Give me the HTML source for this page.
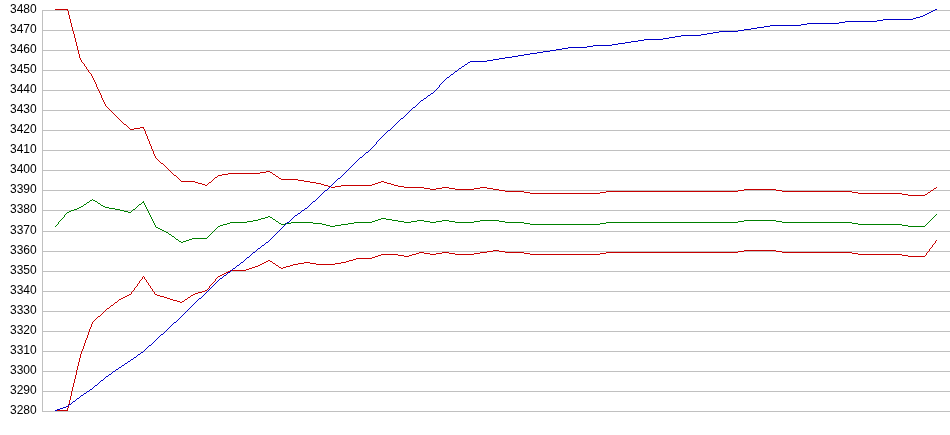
<!DOCTYPE html>
<html><head><meta charset="utf-8"><style>
html,body{margin:0;padding:0;background:#fff;}
body{width:950px;height:435px;overflow:hidden;position:relative;}
.l{position:absolute;right:913px;font:12px/14px "Liberation Sans",sans-serif;color:#000;white-space:nowrap;will-change:transform;}
svg{position:absolute;left:0;top:0;}
</style></head><body>
<div class="l" style="top:2px">3480</div>
<div class="l" style="top:22px">3470</div>
<div class="l" style="top:42px">3460</div>
<div class="l" style="top:62px">3450</div>
<div class="l" style="top:82px">3440</div>
<div class="l" style="top:102px">3430</div>
<div class="l" style="top:122px">3420</div>
<div class="l" style="top:142px">3410</div>
<div class="l" style="top:162px">3400</div>
<div class="l" style="top:182px">3390</div>
<div class="l" style="top:202px">3380</div>
<div class="l" style="top:223px">3370</div>
<div class="l" style="top:243px">3360</div>
<div class="l" style="top:263px">3350</div>
<div class="l" style="top:283px">3340</div>
<div class="l" style="top:303px">3330</div>
<div class="l" style="top:323px">3320</div>
<div class="l" style="top:343px">3310</div>
<div class="l" style="top:363px">3300</div>
<div class="l" style="top:383px">3290</div>
<div class="l" style="top:403px">3280</div>
<svg width="950" height="435" viewBox="0 0 950 435" shape-rendering="crispEdges">
<g stroke="#c0c0c0" stroke-width="1">
<line x1="42" y1="10.5" x2="950" y2="10.5"/>
<line x1="42" y1="30.5" x2="950" y2="30.5"/>
<line x1="42" y1="50.5" x2="950" y2="50.5"/>
<line x1="42" y1="70.5" x2="950" y2="70.5"/>
<line x1="42" y1="90.5" x2="950" y2="90.5"/>
<line x1="42" y1="110.5" x2="950" y2="110.5"/>
<line x1="42" y1="130.5" x2="950" y2="130.5"/>
<line x1="42" y1="150.5" x2="950" y2="150.5"/>
<line x1="42" y1="170.5" x2="950" y2="170.5"/>
<line x1="42" y1="190.5" x2="950" y2="190.5"/>
<line x1="42" y1="210.5" x2="950" y2="210.5"/>
<line x1="42" y1="231.5" x2="950" y2="231.5"/>
<line x1="42" y1="251.5" x2="950" y2="251.5"/>
<line x1="42" y1="271.5" x2="950" y2="271.5"/>
<line x1="42" y1="291.5" x2="950" y2="291.5"/>
<line x1="42" y1="311.5" x2="950" y2="311.5"/>
<line x1="42" y1="331.5" x2="950" y2="331.5"/>
<line x1="42" y1="351.5" x2="950" y2="351.5"/>
<line x1="42" y1="371.5" x2="950" y2="371.5"/>
<line x1="42" y1="391.5" x2="950" y2="391.5"/>
<line x1="42" y1="411.5" x2="950" y2="411.5"/>
<line x1="42.5" y1="10" x2="42.5" y2="412"/>
</g>
<path fill="#c80000" d="M55 9h13v1h-13zM67 10h1v1h-1zM68 11h1v1h-1zM68 12h1v1h-1zM68 13h1v1h-1zM68 14h1v1h-1zM69 15h1v1h-1zM69 16h1v1h-1zM69 17h1v1h-1zM69 18h1v1h-1zM70 19h1v1h-1zM70 20h1v1h-1zM70 21h1v1h-1zM70 22h1v1h-1zM71 23h1v1h-1zM71 24h1v1h-1zM71 25h1v1h-1zM71 26h1v1h-1zM72 27h1v1h-1zM72 28h1v1h-1zM72 29h1v1h-1zM72 30h1v1h-1zM73 31h1v1h-1zM73 32h1v1h-1zM73 33h1v1h-1zM74 34h1v1h-1zM74 35h1v1h-1zM74 36h1v1h-1zM74 37h1v1h-1zM75 38h1v1h-1zM75 39h1v1h-1zM75 40h1v1h-1zM75 41h1v1h-1zM76 42h1v1h-1zM76 43h1v1h-1zM76 44h1v1h-1zM76 45h1v1h-1zM77 46h1v1h-1zM77 47h1v1h-1zM77 48h1v1h-1zM77 49h1v1h-1zM78 50h1v1h-1zM78 51h1v1h-1zM78 52h1v1h-1zM78 53h1v1h-1zM79 54h1v1h-1zM79 55h1v1h-1zM79 56h1v1h-1zM79 57h1v1h-1zM80 58h1v1h-1zM80 59h1v1h-1zM81 60h1v1h-1zM81 61h1v1h-1zM82 62h1v1h-1zM83 63h1v1h-1zM84 64h1v1h-1zM84 65h1v1h-1zM85 66h1v1h-1zM86 67h1v1h-1zM86 68h1v1h-1zM87 69h1v1h-1zM88 70h1v1h-1zM88 71h1v1h-1zM89 72h1v1h-1zM90 73h1v1h-1zM91 74h1v1h-1zM91 75h1v1h-1zM92 76h1v1h-1zM92 77h1v1h-1zM93 78h1v1h-1zM93 79h1v1h-1zM94 80h1v1h-1zM94 81h1v1h-1zM95 82h1v1h-1zM95 83h1v1h-1zM96 84h1v1h-1zM96 85h1v1h-1zM96 86h1v1h-1zM97 87h1v1h-1zM97 88h1v1h-1zM98 89h1v1h-1zM98 90h1v1h-1zM99 91h1v1h-1zM99 92h1v1h-1zM100 93h1v1h-1zM100 94h1v1h-1zM101 95h1v1h-1zM101 96h1v1h-1zM101 97h1v1h-1zM102 98h1v1h-1zM102 99h1v1h-1zM103 100h1v1h-1zM103 101h1v1h-1zM104 102h1v1h-1zM104 103h1v1h-1zM105 104h1v1h-1zM105 105h1v1h-1zM106 106h1v1h-1zM107 107h1v1h-1zM108 108h1v1h-1zM109 109h1v1h-1zM110 110h1v1h-1zM111 111h1v1h-1zM112 112h1v1h-1zM113 113h1v1h-1zM114 114h1v1h-1zM115 115h1v1h-1zM116 116h1v1h-1zM117 117h1v1h-1zM118 118h1v1h-1zM119 119h1v1h-1zM120 120h1v1h-1zM121 121h1v1h-1zM122 122h1v1h-1zM123 123h1v1h-1zM124 124h2v1h-2zM126 125h1v1h-1zM127 126h1v1h-1zM128 127h1v1h-1zM140 127h4v1h-4zM129 128h1v1h-1zM134 128h6v1h-6zM143 128h1v1h-1zM130 129h4v1h-4zM144 129h1v1h-1zM144 130h1v1h-1zM145 131h1v1h-1zM145 132h1v1h-1zM145 133h1v1h-1zM146 134h1v1h-1zM146 135h1v1h-1zM147 136h1v1h-1zM147 137h1v1h-1zM147 138h1v1h-1zM148 139h1v1h-1zM148 140h1v1h-1zM149 141h1v1h-1zM149 142h1v1h-1zM149 143h1v1h-1zM150 144h1v1h-1zM150 145h1v1h-1zM151 146h1v1h-1zM151 147h1v1h-1zM151 148h1v1h-1zM152 149h1v1h-1zM152 150h1v1h-1zM153 151h1v1h-1zM153 152h1v1h-1zM153 153h1v1h-1zM154 154h1v1h-1zM154 155h1v1h-1zM155 156h1v1h-1zM155 157h1v1h-1zM156 158h1v1h-1zM157 159h1v1h-1zM158 160h1v1h-1zM159 161h1v1h-1zM160 162h1v1h-1zM161 163h2v1h-2zM163 164h1v1h-1zM164 165h1v1h-1zM165 166h1v1h-1zM166 167h1v1h-1zM167 168h1v1h-1zM168 169h1v1h-1zM169 170h1v1h-1zM170 171h1v1h-1zM266 171h4v1h-4zM171 172h1v1h-1zM260 172h6v1h-6zM270 172h2v1h-2zM172 173h1v1h-1zM228 173h32v1h-32zM272 173h1v1h-1zM173 174h1v1h-1zM222 174h6v1h-6zM273 174h2v1h-2zM174 175h2v1h-2zM218 175h4v1h-4zM275 175h1v1h-1zM176 176h1v1h-1zM217 176h1v1h-1zM276 176h2v1h-2zM177 177h1v1h-1zM215 177h2v1h-2zM278 177h1v1h-1zM178 178h1v1h-1zM214 178h1v1h-1zM279 178h2v1h-2zM179 179h1v1h-1zM213 179h1v1h-1zM281 179h17v1h-17zM180 180h1v1h-1zM212 180h1v1h-1zM298 180h6v1h-6zM181 181h14v1h-14zM211 181h1v1h-1zM304 181h6v1h-6zM381 181h3v1h-3zM195 182h3v1h-3zM209 182h2v1h-2zM310 182h6v1h-6zM378 182h3v1h-3zM384 182h3v1h-3zM198 183h4v1h-4zM208 183h1v1h-1zM316 183h5v1h-5zM375 183h3v1h-3zM387 183h4v1h-4zM202 184h3v1h-3zM207 184h1v1h-1zM321 184h3v1h-3zM372 184h3v1h-3zM391 184h3v1h-3zM205 185h2v1h-2zM324 185h4v1h-4zM341 185h31v1h-31zM394 185h4v1h-4zM328 186h3v1h-3zM335 186h6v1h-6zM398 186h6v1h-6zM331 187h4v1h-4zM404 187h20v1h-20zM442 187h7v1h-7zM480 187h7v1h-7zM936 187h1v1h-1zM424 188h6v1h-6zM436 188h6v1h-6zM449 188h6v1h-6zM474 188h6v1h-6zM487 188h6v1h-6zM934 188h2v1h-2zM430 189h6v1h-6zM455 189h19v1h-19zM493 189h6v1h-6zM744 189h32v1h-32zM933 189h1v1h-1zM499 190h6v1h-6zM738 190h6v1h-6zM776 190h6v1h-6zM931 190h2v1h-2zM505 191h19v1h-19zM606 191h132v1h-132zM782 191h70v1h-70zM930 191h1v1h-1zM524 192h6v1h-6zM600 192h6v1h-6zM852 192h6v1h-6zM928 192h2v1h-2zM530 193h70v1h-70zM858 193h44v1h-44zM927 193h1v1h-1zM902 194h6v1h-6zM925 194h2v1h-2zM908 195h17v1h-17z"/>
<path fill="#008000" d="M92 199h1v1h-1zM90 200h2v1h-2zM93 200h2v1h-2zM89 201h1v1h-1zM95 201h2v1h-2zM143 201h1v1h-1zM87 202h2v1h-2zM97 202h1v1h-1zM142 202h2v1h-2zM86 203h1v1h-1zM98 203h2v1h-2zM141 203h1v1h-1zM144 203h1v1h-1zM84 204h2v1h-2zM100 204h1v1h-1zM139 204h2v1h-2zM144 204h1v1h-1zM83 205h1v1h-1zM101 205h2v1h-2zM138 205h1v1h-1zM145 205h1v1h-1zM81 206h2v1h-2zM103 206h2v1h-2zM137 206h1v1h-1zM145 206h1v1h-1zM79 207h2v1h-2zM105 207h4v1h-4zM136 207h1v1h-1zM146 207h1v1h-1zM77 208h2v1h-2zM109 208h6v1h-6zM135 208h1v1h-1zM146 208h1v1h-1zM74 209h3v1h-3zM115 209h5v1h-5zM133 209h2v1h-2zM147 209h1v1h-1zM71 210h3v1h-3zM120 210h4v1h-4zM132 210h1v1h-1zM147 210h1v1h-1zM69 211h2v1h-2zM124 211h4v1h-4zM131 211h1v1h-1zM148 211h1v1h-1zM67 212h2v1h-2zM128 212h3v1h-3zM148 212h1v1h-1zM66 213h1v1h-1zM149 213h1v1h-1zM65 214h1v1h-1zM149 214h1v1h-1zM936 214h1v1h-1zM64 215h1v1h-1zM150 215h1v1h-1zM935 215h1v1h-1zM64 216h1v1h-1zM150 216h1v1h-1zM268 216h2v1h-2zM934 216h1v1h-1zM63 217h1v1h-1zM151 217h1v1h-1zM265 217h3v1h-3zM270 217h2v1h-2zM933 217h1v1h-1zM62 218h1v1h-1zM151 218h1v1h-1zM261 218h4v1h-4zM272 218h1v1h-1zM381 218h5v1h-5zM932 218h1v1h-1zM61 219h1v1h-1zM152 219h1v1h-1zM258 219h3v1h-3zM273 219h2v1h-2zM378 219h3v1h-3zM386 219h6v1h-6zM931 219h1v1h-1zM60 220h1v1h-1zM152 220h1v1h-1zM253 220h5v1h-5zM275 220h1v1h-1zM375 220h3v1h-3zM392 220h6v1h-6zM417 220h7v1h-7zM442 220h7v1h-7zM480 220h19v1h-19zM744 220h32v1h-32zM930 220h1v1h-1zM59 221h1v1h-1zM153 221h1v1h-1zM247 221h6v1h-6zM276 221h2v1h-2zM372 221h3v1h-3zM398 221h6v1h-6zM411 221h6v1h-6zM424 221h6v1h-6zM436 221h6v1h-6zM449 221h6v1h-6zM474 221h6v1h-6zM499 221h6v1h-6zM738 221h6v1h-6zM776 221h6v1h-6zM929 221h1v1h-1zM58 222h1v1h-1zM153 222h1v1h-1zM230 222h17v1h-17zM278 222h1v1h-1zM291 222h22v1h-22zM354 222h18v1h-18zM404 222h7v1h-7zM430 222h6v1h-6zM455 222h19v1h-19zM505 222h19v1h-19zM606 222h132v1h-132zM782 222h70v1h-70zM928 222h1v1h-1zM58 223h1v1h-1zM154 223h1v1h-1zM227 223h3v1h-3zM279 223h2v1h-2zM285 223h6v1h-6zM313 223h9v1h-9zM348 223h6v1h-6zM524 223h6v1h-6zM600 223h6v1h-6zM852 223h6v1h-6zM927 223h1v1h-1zM57 224h1v1h-1zM154 224h1v1h-1zM223 224h4v1h-4zM281 224h4v1h-4zM322 224h4v1h-4zM341 224h7v1h-7zM530 224h70v1h-70zM858 224h44v1h-44zM926 224h1v1h-1zM56 225h1v1h-1zM155 225h1v1h-1zM220 225h3v1h-3zM326 225h4v1h-4zM335 225h6v1h-6zM902 225h6v1h-6zM925 225h1v1h-1zM55 226h1v1h-1zM155 226h1v1h-1zM218 226h2v1h-2zM330 226h5v1h-5zM908 226h17v1h-17zM156 227h2v1h-2zM217 227h1v1h-1zM158 228h2v1h-2zM216 228h1v1h-1zM160 229h2v1h-2zM215 229h1v1h-1zM162 230h2v1h-2zM214 230h1v1h-1zM164 231h2v1h-2zM213 231h1v1h-1zM166 232h2v1h-2zM212 232h1v1h-1zM168 233h1v1h-1zM211 233h1v1h-1zM169 234h2v1h-2zM210 234h1v1h-1zM171 235h1v1h-1zM209 235h1v1h-1zM172 236h2v1h-2zM208 236h1v1h-1zM174 237h1v1h-1zM207 237h1v1h-1zM175 238h1v1h-1zM192 238h15v1h-15zM176 239h2v1h-2zM189 239h3v1h-3zM178 240h1v1h-1zM186 240h3v1h-3zM179 241h2v1h-2zM183 241h3v1h-3zM181 242h2v1h-2z"/>
<path fill="#c80000" d="M936 240h1v1h-1zM935 241h1v1h-1zM935 242h1v1h-1zM934 243h1v1h-1zM933 244h1v1h-1zM932 245h1v1h-1zM932 246h1v1h-1zM931 247h1v1h-1zM930 248h1v1h-1zM929 249h1v1h-1zM493 250h6v1h-6zM744 250h32v1h-32zM929 250h1v1h-1zM487 251h6v1h-6zM499 251h6v1h-6zM738 251h6v1h-6zM776 251h6v1h-6zM928 251h1v1h-1zM419 252h5v1h-5zM442 252h7v1h-7zM480 252h7v1h-7zM505 252h19v1h-19zM606 252h132v1h-132zM782 252h70v1h-70zM927 252h1v1h-1zM416 253h3v1h-3zM424 253h6v1h-6zM436 253h6v1h-6zM449 253h6v1h-6zM474 253h6v1h-6zM524 253h6v1h-6zM600 253h6v1h-6zM852 253h6v1h-6zM926 253h1v1h-1zM381 254h17v1h-17zM412 254h4v1h-4zM430 254h6v1h-6zM455 254h19v1h-19zM530 254h70v1h-70zM858 254h44v1h-44zM926 254h1v1h-1zM378 255h3v1h-3zM398 255h6v1h-6zM409 255h3v1h-3zM902 255h6v1h-6zM925 255h1v1h-1zM375 256h3v1h-3zM404 256h5v1h-5zM908 256h17v1h-17zM372 257h3v1h-3zM356 258h16v1h-16zM353 259h3v1h-3zM268 260h2v1h-2zM349 260h4v1h-4zM266 261h2v1h-2zM270 261h2v1h-2zM346 261h3v1h-3zM264 262h2v1h-2zM272 262h1v1h-1zM304 262h6v1h-6zM341 262h5v1h-5zM262 263h2v1h-2zM273 263h2v1h-2zM298 263h6v1h-6zM310 263h6v1h-6zM335 263h6v1h-6zM260 264h2v1h-2zM275 264h1v1h-1zM293 264h5v1h-5zM316 264h19v1h-19zM258 265h2v1h-2zM276 265h2v1h-2zM290 265h3v1h-3zM255 266h3v1h-3zM278 266h1v1h-1zM286 266h4v1h-4zM252 267h3v1h-3zM279 267h2v1h-2zM283 267h3v1h-3zM249 268h3v1h-3zM281 268h2v1h-2zM246 269h3v1h-3zM230 270h16v1h-16zM228 271h2v1h-2zM226 272h2v1h-2zM224 273h2v1h-2zM222 274h2v1h-2zM220 275h2v1h-2zM143 276h1v1h-1zM218 276h2v1h-2zM142 277h1v1h-1zM144 277h1v1h-1zM217 277h1v1h-1zM142 278h1v1h-1zM144 278h1v1h-1zM216 278h1v1h-1zM141 279h1v1h-1zM145 279h1v1h-1zM215 279h1v1h-1zM140 280h1v1h-1zM146 280h1v1h-1zM215 280h1v1h-1zM139 281h1v1h-1zM146 281h1v1h-1zM214 281h1v1h-1zM139 282h1v1h-1zM147 282h1v1h-1zM213 282h1v1h-1zM138 283h1v1h-1zM148 283h1v1h-1zM212 283h1v1h-1zM137 284h1v1h-1zM148 284h1v1h-1zM211 284h1v1h-1zM137 285h1v1h-1zM149 285h1v1h-1zM210 285h1v1h-1zM136 286h1v1h-1zM150 286h1v1h-1zM209 286h1v1h-1zM135 287h1v1h-1zM150 287h1v1h-1zM209 287h1v1h-1zM134 288h1v1h-1zM151 288h1v1h-1zM208 288h1v1h-1zM134 289h1v1h-1zM152 289h1v1h-1zM207 289h1v1h-1zM133 290h1v1h-1zM152 290h1v1h-1zM205 290h2v1h-2zM132 291h1v1h-1zM153 291h1v1h-1zM202 291h3v1h-3zM131 292h1v1h-1zM154 292h1v1h-1zM198 292h4v1h-4zM131 293h1v1h-1zM154 293h1v1h-1zM195 293h3v1h-3zM129 294h2v1h-2zM155 294h2v1h-2zM193 294h2v1h-2zM127 295h2v1h-2zM157 295h3v1h-3zM191 295h2v1h-2zM125 296h2v1h-2zM160 296h4v1h-4zM190 296h1v1h-1zM123 297h2v1h-2zM164 297h3v1h-3zM188 297h2v1h-2zM121 298h2v1h-2zM167 298h3v1h-3zM187 298h1v1h-1zM119 299h2v1h-2zM170 299h3v1h-3zM185 299h2v1h-2zM118 300h1v1h-1zM173 300h4v1h-4zM184 300h1v1h-1zM117 301h1v1h-1zM177 301h3v1h-3zM182 301h2v1h-2zM115 302h2v1h-2zM180 302h2v1h-2zM114 303h1v1h-1zM113 304h1v1h-1zM111 305h2v1h-2zM110 306h1v1h-1zM109 307h1v1h-1zM107 308h2v1h-2zM106 309h1v1h-1zM105 310h1v1h-1zM104 311h1v1h-1zM103 312h1v1h-1zM102 313h1v1h-1zM101 314h1v1h-1zM100 315h1v1h-1zM98 316h2v1h-2zM97 317h1v1h-1zM96 318h1v1h-1zM95 319h1v1h-1zM94 320h1v1h-1zM93 321h1v1h-1zM92 322h1v1h-1zM92 323h1v1h-1zM91 324h1v1h-1zM91 325h1v1h-1zM91 326h1v1h-1zM90 327h1v1h-1zM90 328h1v1h-1zM89 329h1v1h-1zM89 330h1v1h-1zM89 331h1v1h-1zM88 332h1v1h-1zM88 333h1v1h-1zM88 334h1v1h-1zM87 335h1v1h-1zM87 336h1v1h-1zM87 337h1v1h-1zM86 338h1v1h-1zM86 339h1v1h-1zM85 340h1v1h-1zM85 341h1v1h-1zM85 342h1v1h-1zM84 343h1v1h-1zM84 344h1v1h-1zM84 345h1v1h-1zM83 346h1v1h-1zM83 347h1v1h-1zM83 348h1v1h-1zM82 349h1v1h-1zM82 350h1v1h-1zM81 351h1v1h-1zM81 352h1v1h-1zM81 353h1v1h-1zM80 354h1v1h-1zM80 355h1v1h-1zM80 356h1v1h-1zM80 357h1v1h-1zM79 358h1v1h-1zM79 359h1v1h-1zM79 360h1v1h-1zM79 361h1v1h-1zM78 362h1v1h-1zM78 363h1v1h-1zM78 364h1v1h-1zM78 365h1v1h-1zM77 366h1v1h-1zM77 367h1v1h-1zM77 368h1v1h-1zM77 369h1v1h-1zM76 370h1v1h-1zM76 371h1v1h-1zM76 372h1v1h-1zM76 373h1v1h-1zM76 374h1v1h-1zM75 375h1v1h-1zM75 376h1v1h-1zM75 377h1v1h-1zM75 378h1v1h-1zM74 379h1v1h-1zM74 380h1v1h-1zM74 381h1v1h-1zM74 382h1v1h-1zM73 383h1v1h-1zM73 384h1v1h-1zM73 385h1v1h-1zM73 386h1v1h-1zM72 387h1v1h-1zM72 388h1v1h-1zM72 389h1v1h-1zM72 390h1v1h-1zM71 391h1v1h-1zM71 392h1v1h-1zM71 393h1v1h-1zM71 394h1v1h-1zM71 395h1v1h-1zM70 396h1v1h-1zM70 397h1v1h-1zM70 398h1v1h-1zM70 399h1v1h-1zM69 400h1v1h-1zM69 401h1v1h-1zM69 402h1v1h-1zM69 403h1v1h-1zM68 404h1v1h-1zM68 405h1v1h-1zM68 406h1v1h-1zM68 407h1v1h-1zM67 408h1v1h-1zM67 409h1v1h-1zM55 410h13v1h-13z"/>
<path fill="#0000c8" d="M935 9h2v1h-2zM933 10h2v1h-2zM931 11h2v1h-2zM929 12h2v1h-2zM927 13h2v1h-2zM925 14h2v1h-2zM923 15h2v1h-2zM920 16h3v1h-3zM916 17h4v1h-4zM913 18h3v1h-3zM883 19h30v1h-30zM877 20h6v1h-6zM845 21h32v1h-32zM839 22h6v1h-6zM807 23h32v1h-32zM801 24h6v1h-6zM770 25h31v1h-31zM764 26h6v1h-6zM757 27h7v1h-7zM751 28h6v1h-6zM744 29h7v1h-7zM738 30h6v1h-6zM719 31h19v1h-19zM713 32h6v1h-6zM707 33h6v1h-6zM701 34h6v1h-6zM681 35h20v1h-20zM675 36h6v1h-6zM669 37h6v1h-6zM663 38h6v1h-6zM644 39h19v1h-19zM638 40h6v1h-6zM631 41h7v1h-7zM625 42h6v1h-6zM618 43h7v1h-7zM612 44h6v1h-6zM593 45h19v1h-19zM587 46h6v1h-6zM568 47h19v1h-19zM562 48h6v1h-6zM556 49h6v1h-6zM550 50h6v1h-6zM543 51h7v1h-7zM537 52h6v1h-6zM530 53h7v1h-7zM524 54h6v1h-6zM518 55h6v1h-6zM512 56h6v1h-6zM505 57h7v1h-7zM499 58h6v1h-6zM493 59h6v1h-6zM487 60h6v1h-6zM470 61h17v1h-17zM468 62h2v1h-2zM467 63h1v1h-1zM465 64h2v1h-2zM464 65h1v1h-1zM462 66h2v1h-2zM461 67h1v1h-1zM459 68h2v1h-2zM458 69h1v1h-1zM457 70h1v1h-1zM455 71h2v1h-2zM454 72h1v1h-1zM453 73h1v1h-1zM451 74h2v1h-2zM450 75h1v1h-1zM449 76h1v1h-1zM447 77h2v1h-2zM446 78h1v1h-1zM445 79h1v1h-1zM444 80h1v1h-1zM443 81h1v1h-1zM442 82h1v1h-1zM441 83h1v1h-1zM440 84h1v1h-1zM439 85h1v1h-1zM439 86h1v1h-1zM438 87h1v1h-1zM437 88h1v1h-1zM436 89h1v1h-1zM435 90h1v1h-1zM434 91h1v1h-1zM433 92h1v1h-1zM431 93h2v1h-2zM430 94h1v1h-1zM428 95h2v1h-2zM427 96h1v1h-1zM426 97h1v1h-1zM424 98h2v1h-2zM423 99h1v1h-1zM421 100h2v1h-2zM420 101h1v1h-1zM419 102h1v1h-1zM418 103h1v1h-1zM417 104h1v1h-1zM416 105h1v1h-1zM415 106h1v1h-1zM413 107h2v1h-2zM412 108h1v1h-1zM411 109h1v1h-1zM410 110h1v1h-1zM409 111h1v1h-1zM408 112h1v1h-1zM407 113h1v1h-1zM406 114h1v1h-1zM405 115h1v1h-1zM404 116h1v1h-1zM403 117h1v1h-1zM401 118h2v1h-2zM400 119h1v1h-1zM399 120h1v1h-1zM398 121h1v1h-1zM397 122h1v1h-1zM396 123h1v1h-1zM395 124h1v1h-1zM394 125h1v1h-1zM393 126h1v1h-1zM392 127h1v1h-1zM391 128h1v1h-1zM390 129h1v1h-1zM388 130h2v1h-2zM387 131h1v1h-1zM386 132h1v1h-1zM385 133h1v1h-1zM384 134h1v1h-1zM383 135h1v1h-1zM382 136h1v1h-1zM381 137h1v1h-1zM380 138h1v1h-1zM379 139h1v1h-1zM378 140h1v1h-1zM377 141h1v1h-1zM376 142h1v1h-1zM376 143h1v1h-1zM375 144h1v1h-1zM374 145h1v1h-1zM373 146h1v1h-1zM372 147h1v1h-1zM371 148h1v1h-1zM370 149h1v1h-1zM369 150h1v1h-1zM368 151h1v1h-1zM366 152h2v1h-2zM365 153h1v1h-1zM364 154h1v1h-1zM363 155h1v1h-1zM362 156h1v1h-1zM360 157h2v1h-2zM359 158h1v1h-1zM358 159h1v1h-1zM357 160h1v1h-1zM356 161h1v1h-1zM355 162h1v1h-1zM354 163h1v1h-1zM353 164h1v1h-1zM352 165h1v1h-1zM351 166h1v1h-1zM350 167h1v1h-1zM349 168h1v1h-1zM348 169h1v1h-1zM347 170h1v1h-1zM346 171h1v1h-1zM345 172h1v1h-1zM344 173h1v1h-1zM343 174h1v1h-1zM342 175h1v1h-1zM341 176h1v1h-1zM340 177h1v1h-1zM338 178h2v1h-2zM337 179h1v1h-1zM336 180h1v1h-1zM335 181h1v1h-1zM334 182h1v1h-1zM333 183h1v1h-1zM332 184h1v1h-1zM331 185h1v1h-1zM330 186h1v1h-1zM329 187h1v1h-1zM328 188h1v1h-1zM327 189h1v1h-1zM325 190h2v1h-2zM324 191h1v1h-1zM323 192h1v1h-1zM322 193h1v1h-1zM321 194h1v1h-1zM320 195h1v1h-1zM319 196h1v1h-1zM318 197h1v1h-1zM317 198h1v1h-1zM316 199h1v1h-1zM315 200h1v1h-1zM313 201h2v1h-2zM312 202h1v1h-1zM311 203h1v1h-1zM310 204h1v1h-1zM309 205h1v1h-1zM308 206h1v1h-1zM307 207h1v1h-1zM305 208h2v1h-2zM304 209h1v1h-1zM302 210h2v1h-2zM301 211h1v1h-1zM300 212h1v1h-1zM298 213h2v1h-2zM297 214h1v1h-1zM295 215h2v1h-2zM294 216h1v1h-1zM293 217h1v1h-1zM292 218h1v1h-1zM291 219h1v1h-1zM290 220h1v1h-1zM289 221h1v1h-1zM287 222h2v1h-2zM286 223h1v1h-1zM285 224h1v1h-1zM284 225h1v1h-1zM283 226h1v1h-1zM282 227h1v1h-1zM281 228h1v1h-1zM280 229h1v1h-1zM279 230h1v1h-1zM278 231h1v1h-1zM277 232h1v1h-1zM276 233h1v1h-1zM275 234h1v1h-1zM274 235h1v1h-1zM273 236h1v1h-1zM272 237h1v1h-1zM271 238h1v1h-1zM270 239h1v1h-1zM269 240h1v1h-1zM268 241h1v1h-1zM266 242h2v1h-2zM265 243h1v1h-1zM264 244h1v1h-1zM262 245h2v1h-2zM261 246h1v1h-1zM260 247h1v1h-1zM258 248h2v1h-2zM257 249h1v1h-1zM256 250h1v1h-1zM255 251h1v1h-1zM253 252h2v1h-2zM252 253h1v1h-1zM251 254h1v1h-1zM250 255h1v1h-1zM249 256h1v1h-1zM247 257h2v1h-2zM246 258h1v1h-1zM245 259h1v1h-1zM244 260h1v1h-1zM243 261h1v1h-1zM241 262h2v1h-2zM240 263h1v1h-1zM239 264h1v1h-1zM237 265h2v1h-2zM236 266h1v1h-1zM235 267h1v1h-1zM233 268h2v1h-2zM232 269h1v1h-1zM231 270h1v1h-1zM230 271h1v1h-1zM228 272h2v1h-2zM227 273h1v1h-1zM226 274h1v1h-1zM224 275h2v1h-2zM223 276h1v1h-1zM222 277h1v1h-1zM220 278h2v1h-2zM219 279h1v1h-1zM218 280h1v1h-1zM217 281h1v1h-1zM216 282h1v1h-1zM215 283h1v1h-1zM214 284h1v1h-1zM213 285h1v1h-1zM212 286h1v1h-1zM211 287h1v1h-1zM210 288h1v1h-1zM209 289h1v1h-1zM208 290h1v1h-1zM207 291h1v1h-1zM206 292h1v1h-1zM205 293h1v1h-1zM204 294h1v1h-1zM203 295h1v1h-1zM202 296h1v1h-1zM201 297h1v1h-1zM199 298h2v1h-2zM198 299h1v1h-1zM197 300h1v1h-1zM196 301h1v1h-1zM195 302h1v1h-1zM194 303h1v1h-1zM193 304h1v1h-1zM192 305h1v1h-1zM191 306h1v1h-1zM190 307h1v1h-1zM189 308h1v1h-1zM188 309h1v1h-1zM187 310h1v1h-1zM186 311h1v1h-1zM185 312h1v1h-1zM184 313h1v1h-1zM183 314h1v1h-1zM182 315h1v1h-1zM181 316h1v1h-1zM180 317h1v1h-1zM179 318h1v1h-1zM178 319h1v1h-1zM177 320h1v1h-1zM176 321h1v1h-1zM174 322h2v1h-2zM173 323h1v1h-1zM172 324h1v1h-1zM171 325h1v1h-1zM170 326h1v1h-1zM169 327h1v1h-1zM168 328h1v1h-1zM167 329h1v1h-1zM166 330h1v1h-1zM165 331h1v1h-1zM164 332h1v1h-1zM163 333h1v1h-1zM161 334h2v1h-2zM160 335h1v1h-1zM159 336h1v1h-1zM158 337h1v1h-1zM157 338h1v1h-1zM156 339h1v1h-1zM155 340h1v1h-1zM154 341h1v1h-1zM153 342h1v1h-1zM152 343h1v1h-1zM151 344h1v1h-1zM149 345h2v1h-2zM148 346h1v1h-1zM147 347h1v1h-1zM146 348h1v1h-1zM145 349h1v1h-1zM144 350h1v1h-1zM143 351h1v1h-1zM141 352h2v1h-2zM140 353h1v1h-1zM138 354h2v1h-2zM137 355h1v1h-1zM136 356h1v1h-1zM134 357h2v1h-2zM133 358h1v1h-1zM131 359h2v1h-2zM130 360h1v1h-1zM128 361h2v1h-2zM127 362h1v1h-1zM125 363h2v1h-2zM124 364h1v1h-1zM122 365h2v1h-2zM121 366h1v1h-1zM119 367h2v1h-2zM118 368h1v1h-1zM116 369h2v1h-2zM115 370h1v1h-1zM113 371h2v1h-2zM112 372h1v1h-1zM111 373h1v1h-1zM109 374h2v1h-2zM108 375h1v1h-1zM106 376h2v1h-2zM105 377h1v1h-1zM104 378h1v1h-1zM103 379h1v1h-1zM101 380h2v1h-2zM100 381h1v1h-1zM99 382h1v1h-1zM98 383h1v1h-1zM97 384h1v1h-1zM95 385h2v1h-2zM94 386h1v1h-1zM93 387h1v1h-1zM92 388h1v1h-1zM90 389h2v1h-2zM89 390h1v1h-1zM87 391h2v1h-2zM86 392h1v1h-1zM84 393h2v1h-2zM83 394h1v1h-1zM81 395h2v1h-2zM80 396h1v1h-1zM79 397h1v1h-1zM77 398h2v1h-2zM76 399h1v1h-1zM75 400h1v1h-1zM73 401h2v1h-2zM72 402h1v1h-1zM71 403h1v1h-1zM69 404h2v1h-2zM68 405h1v1h-1zM66 406h2v1h-2zM63 407h3v1h-3zM60 408h3v1h-3zM57 409h3v1h-3zM55 410h2v1h-2z"/>
</svg>
</body></html>
